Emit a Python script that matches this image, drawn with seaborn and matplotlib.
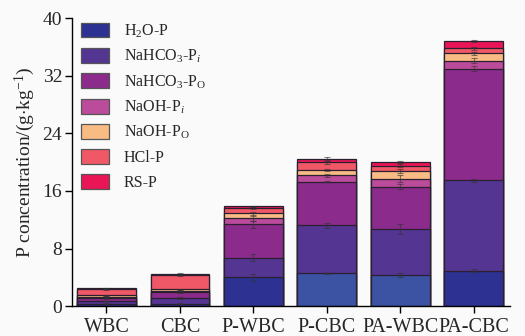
import numpy as np
import pandas as pd
import matplotlib
matplotlib.use("Agg")
import matplotlib.pyplot as plt
import matplotlib.patches as mpatches
import seaborn as sns

samples = ["WBC", "CBC", "P-WBC", "P-CBC", "PA-WBC", "PA-CBC"]
fractions = ["H$_2$O-P", "NaHCO$_3$-P$_i$", "NaHCO$_3$-P$_\\mathrm{O}$", "NaOH-P$_i$",
             "NaOH-P$_\\mathrm{O}$", "HCl-P", "RS-P"]

h2o_p = [0.35, 0.35, 3.98, 4.53, 4.35, 4.90]
nahco3_pi = [0.35, 0.75, 2.72, 6.67, 6.30, 12.55]
nahco3_po = [0.40, 0.80, 4.65, 6.10, 5.95, 15.55]
naoh_pi = [0.20, 0.25, 0.83, 0.85, 1.10, 1.10]
naoh_po = [0.20, 0.20, 0.69, 0.75, 1.10, 1.00]
hcl_p = [0.85, 1.95, 0.73, 1.05, 0.70, 0.70]
rs_p = [0.10, 0.15, 0.25, 0.55, 0.50, 1.05]

h2o_err = [0.05, 0.05, 0.45, 0.10, 0.30, 0.20]
nahco3_pi_err = [0.05, 0.10, 0.50, 0.30, 0.70, 0.20]
nahco3_po_err = [0.05, 0.15, 0.50, 0.10, 0.40, 0.30]
naoh_pi_err = [0.05, 0.10, 0.35, 0.20, 0.50, 0.35]
naoh_po_err = [0.05, 0.05, 0.15, 0.10, 0.30, 0.20]
hcl_err = [0.05, 0.05, 0.10, 0.15, 0.20, 0.20]
rs_err = [0.10, 0.10, 0.10, 0.20, 0.15, 0.15]

colors = ["#2c3192", "#553592", "#8b2b8b", "#bb4b9b", "#f8bb84", "#f05867", "#ea1556"]
h2o_light = "#3c52a3"  # lighter blue on P-CBC and PA-WBC

sns.set_theme(style="ticks")
plt.rcParams["font.family"] = ["Liberation Serif", "DejaVu Serif"]
plt.rcParams["mathtext.fontset"] = "custom"
plt.rcParams["mathtext.rm"] = "Liberation Serif"
plt.rcParams["mathtext.it"] = "Liberation Serif:italic"

layers = np.array([h2o_p, nahco3_pi, nahco3_po, naoh_pi, naoh_po, hcl_p, rs_p])
errs = np.array([h2o_err, nahco3_pi_err, nahco3_po_err, naoh_pi_err, naoh_po_err, hcl_err, rs_err])
cum = layers.cumsum(axis=0)

fig, ax = plt.subplots(figsize=(5.25, 3.36), dpi=100)
fig.patch.set_facecolor("#fafafa")
ax.set_facecolor("#fafafa")

# stacked bars: draw cumulative totals from the top layer down
for i in range(len(fractions) - 1, -1, -1):
    df = pd.DataFrame({"sample": samples, "value": cum[i]})
    pal = {s: colors[i] for s in samples}
    if i == 0:
        pal["P-CBC"] = h2o_light
        pal["PA-WBC"] = h2o_light
    sns.barplot(data=df, x="sample", y="value", hue="sample", palette=pal,
                legend=False, width=0.8, saturation=1, edgecolor="#2a2030",
                linewidth=0.9, ax=ax)

for i in range(len(fractions)):
    ax.errorbar(np.arange(len(samples)), cum[i], yerr=errs[i], fmt="none",
                ecolor="#333333", alpha=0.6, capsize=2.5, elinewidth=0.8,
                capthick=0.8, zorder=5)

ax.set_xlim(-0.47, 5.49)
ax.set_ylim(0, 40)
ax.set_yticks([0, 8, 16, 24, 32, 40])
ax.set_xlabel("")
ax.set_ylabel("P concentration/(g$\\cdot$kg$^{-1}$)", fontsize=14, labelpad=4)
ax.tick_params(axis="x", labelsize=14.5, length=5, width=1, color="black")
ax.tick_params(axis="y", labelsize=14, length=5, width=1, color="black", pad=2)
sns.despine(ax=ax)
for sp in ["left", "bottom"]:
    ax.spines[sp].set_color("black")
    ax.spines[sp].set_linewidth(1)

handles = [mpatches.Patch(facecolor=c, edgecolor="#555555", linewidth=0.9) for c in colors]
ax.legend(handles, fractions, loc="upper left", bbox_to_anchor=(0.02, 0.985),
          frameon=False, fontsize=11.5, handlelength=1.8, handleheight=1.05,
          labelspacing=0.5, handletextpad=0.9, borderpad=0, borderaxespad=0)

fig.subplots_adjust(left=0.137, right=0.971, bottom=0.089, top=0.946)
fig.savefig("out.png", dpi=100, facecolor=fig.get_facecolor())
